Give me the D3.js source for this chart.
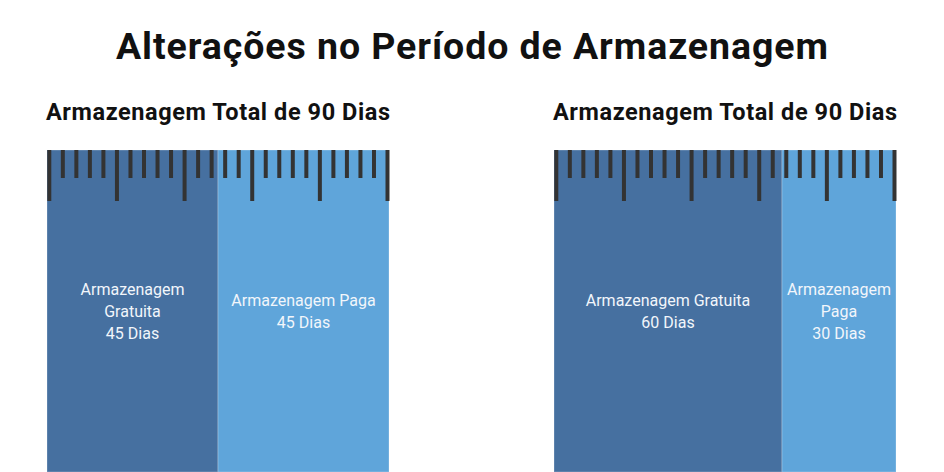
<!DOCTYPE html>
<html>
<head>
<meta charset="utf-8">
<script src="https://cdn.jsdelivr.net/npm/d3@7"></script>
<style>
  body { margin: 0; background: #fff; }
  svg { display: block; font-family: Roboto, "Noto Sans", sans-serif; }
</style>
</head>
<body>
<div id="chart_root"></div>
<script>
const widthValue = 944;
const heightValue = 472;

// data
const title = "Alterações no Período de Armazenagem";
const panelTitles = ["Armazenagem Total de 90 Dias", "Armazenagem Total de 90 Dias"];
const segmentNames = ["Armazenagem Gratuita", "Armazenagem Paga"];
const freeDays = [45, 60];
const paidDays = [45, 30];
const totalDays = 90;
const rulerMarks = d3.range(0, 26); // ruler subdivisions, long mark every 5
const dayUnit = "Dias";

const colors = ["#4670a0", "#5fa5da"];

const pad = { left: 47, right: 48, top: 150, bottom: 0 };
const panelGap = 165;
const panelW = (widthValue - pad.left - pad.right - panelGap) / 2;

const svg = d3
  .select("#chart_root")
  .append("svg")
  .attr("width", widthValue)
  .attr("height", heightValue);

svg
  .append("text")
  .attr("x", widthValue / 2)
  .attr("y", 59)
  .attr("text-anchor", "middle")
  .attr("font-size", 37.5)
  .attr("font-weight", 700)
  .attr("fill", "#111")
  .attr("textLength", 712)
  .attr("lengthAdjust", "spacing")
  .text(title);

// panel positions
const panelScale = d3
  .scalePoint()
  .domain(d3.range(panelTitles.length))
  .range([pad.left, widthValue - pad.right - panelW]);

const yScale = d3.scaleLinear().domain([0, 1]).range([pad.top, heightValue - pad.bottom]);

function wrap(textSel, lineH) {
  textSel.each(function (d) {
    const t = d3.select(this);
    const maxW = +t.attr("data-w");
    const words = t.text().split(/\s+/);
    const cx = t.attr("x");
    t.text(null);
    let lines = [];
    let line = [];
    const probe = t.append("tspan");
    words.forEach((w) => {
      line.push(w);
      probe.text(line.join(" "));
      if (probe.node().getComputedTextLength() > maxW && line.length > 1) {
        line.pop();
        lines.push(line.join(" "));
        line = [w];
      }
    });
    lines.push(line.join(" "));
    probe.remove();
    lines.push(t.attr("data-extra"));
    const start = -((lines.length - 1) / 2) * lineH;
    lines.forEach((l, i) => {
      t.append("tspan")
        .attr("x", cx)
        .attr("dy", i === 0 ? start + 5.5 : lineH)
        .text(l);
    });
  });
}

panelTitles.forEach((pt, i) => {
  const x0 = panelScale(i);
  const xScale = d3.scaleLinear().domain([0, totalDays]).range([x0, x0 + panelW]);
  const g = svg.append("g");

  g.append("text")
    .attr("x", x0 + panelW / 2)
    .attr("y", 120)
    .attr("text-anchor", "middle")
    .attr("font-size", 23.5)
    .attr("font-weight", 700)
    .attr("fill", "#111")
    .attr("textLength", 344)
    .attr("lengthAdjust", "spacing")
    .text(pt);

  const segs = [
    { name: segmentNames[0], start: 0, days: freeDays[i], color: colors[0] },
    { name: segmentNames[1], start: freeDays[i], days: paidDays[i], color: colors[1] },
  ];

  g.selectAll("rect.seg")
    .data(segs)
    .join("rect")
    .attr("class", "seg")
    .attr("x", (d) => xScale(d.start))
    .attr("y", yScale(0))
    .attr("width", (d) => xScale(d.start + d.days) - xScale(d.start))
    .attr("height", yScale(1) - yScale(0))
    .attr("fill", (d) => d.color)
    .attr("stroke", "rgba(255,255,255,0.25)")
    .attr("stroke-width", 1);

  // ruler marks
  const rulerScale = d3
    .scaleLinear()
    .domain([0, rulerMarks.length - 1])
    .range([x0 + 2.3, x0 + panelW - 1.5]);
  g.selectAll("line.mark")
    .data(rulerMarks)
    .join("line")
    .attr("class", "mark")
    .attr("x1", (d) => rulerScale(d))
    .attr("x2", (d) => rulerScale(d))
    .attr("y1", yScale(0))
    .attr("y2", (d) => yScale(0) + (d % 5 === 0 ? 51 : 28))
    .attr("stroke", "#333")
    .attr("stroke-width", 4);

  g.selectAll("text.lab")
    .data(segs)
    .join("text")
    .attr("class", "lab")
    .attr("x", (d) => xScale(d.start + d.days / 2))
    .attr("y", (yScale(0) + yScale(1)) / 2)
    .attr("text-anchor", "middle")
    .attr("font-size", 16)
    .attr("fill", "#f2f6fb")
    .attr("data-w", (d) => xScale(d.start + d.days) - xScale(d.start) - 14)
    .attr("data-extra", (d) => d.days + " " + dayUnit)
    .text((d) => d.name)
    .call(wrap, 22);
});
</script>
</body>
</html>
